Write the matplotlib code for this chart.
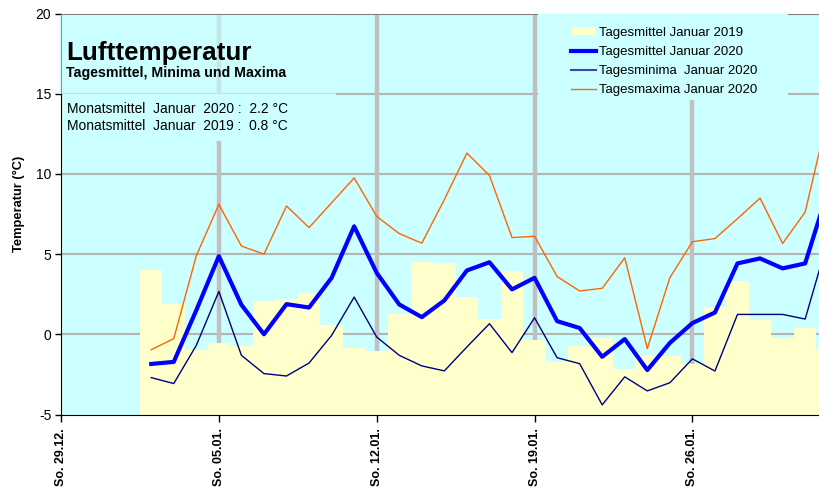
import matplotlib
matplotlib.use("Agg")
import matplotlib.pyplot as plt
from matplotlib.patches import Rectangle, Patch
from matplotlib.lines import Line2D

plt.rcParams['font.family'] = ['Liberation Sans', 'DejaVu Sans']
plt.rcParams['axes.unicode_minus'] = False

# ---- data (January, day 1..31) ----
days = list(range(1, 32))
mean_2019 = [4.0, 1.9, -1.0, -0.54, -0.73, 2.07, 2.17, 2.59, 0.6, -0.83, -1.06,
             1.28, 4.51, 4.47, 2.32, 0.97, 3.97, -0.34, -1.75, -0.71, -0.21,
             -2.16, -1.37, -1.37, -1.87, 1.7, 3.35, 0.87, -0.21, 0.39, -0.94]
mean_2020 = [-1.85, -1.72, 1.5, 4.87, 1.84, 0.0, 1.88, 1.67, 3.52, 6.73, 3.83,
             1.86, 1.07, 2.11, 3.98, 4.49, 2.8, 3.52, 0.82, 0.39, -1.4,
             -0.3, -2.23, -0.54, 0.7, 1.36, 4.42, 4.73, 4.11, 4.42, 8.9]
min_2020 = [-2.7, -3.07, -0.69, 2.67, -1.31, -2.45, -2.6, -1.79, -0.07, 2.32, -0.17,
            -1.31, -1.97, -2.28, -0.79, 0.66, -1.14, 1.03, -1.46, -1.83, -4.4,
            -2.65, -3.53, -3.02, -1.53, -2.29, 1.24, 1.24, 1.24, 0.95, 5.8]
max_2020 = [-0.96, -0.27, 4.9, 8.1, 5.5, 5.0, 8.0, 6.65, 8.2, 9.75, 7.35,
            6.28, 5.68, 8.4, 11.3, 9.9, 6.03, 6.11, 3.6, 2.7, 2.87,
            4.77, -0.89, 3.53, 5.77, 5.97, 7.21, 8.49, 5.66, 7.62, 13.6]
tick_days = [0, 7, 14, 21, 28]
tick_labels = ['So. 29.12.', 'So. 05.01.', 'So. 12.01.', 'So. 19.01.', 'So. 26.01.']
y_ticks = [-5, 0, 5, 10, 15, 20]
legend_labels = ['Tagesmittel Januar 2019', 'Tagesmittel Januar 2020',
                 'Tagesminima  Januar 2020', 'Tagesmaxima Januar 2020']
mean_text = ['Monatsmittel  Januar  2020 :  2.2 °C', 'Monatsmittel  Januar  2019 :  0.8 °C']

Y_FLOOR = -5  # value axis crosses at -5, bars grow from there

# x position: days since 29.12. (data plotted one day offset as in original)
xpos = [d + 3 for d in days]

W, H = 820, 496
fig = plt.figure(figsize=(W / 100, H / 100), dpi=100)
fig.patch.set_facecolor('white')

L, T, B = 61, 13.5, 414.5
ax = fig.add_axes([L / W, (H - B) / H, (W - L) / W, (B - T) / H])
ax.set_facecolor('#CCFFFF')
ax.set_xlim(0, (W - L) / 22.55)
ax.set_ylim(Y_FLOOR, 20)

# gridlines
for yv in y_ticks[1:-1]:
    ax.axhline(yv, color='#B4B4B4', lw=1.5, zorder=1)
for xv in tick_days[1:]:
    ax.axvline(xv, color='#C0C0C0', lw=3.2, zorder=1)

ax.bar(xpos, [v - Y_FLOOR for v in mean_2019], width=1.0, bottom=Y_FLOOR,
       color='#FFFFCC', edgecolor='none', zorder=2)
ax.plot(xpos, max_2020, color='#FF6600', lw=1.0, zorder=4)
ax.plot(xpos, min_2020, color='#000080', lw=1.0, zorder=4)
ax.plot(xpos, mean_2020, color='#0000FF', lw=3.0, zorder=5)

ax.set_yticks(y_ticks)
ax.set_yticklabels([str(v) for v in y_ticks], fontsize=10)
ax.set_xticks(tick_days)
ax.set_xticklabels(tick_labels, rotation=90, fontsize=9, fontweight='bold')
ax.tick_params(axis='y', length=4, width=1, pad=3, direction='out')
ax.tick_params(axis='x', length=5, width=1, pad=5, direction='out')

ax.spines['right'].set_visible(False)
ax.spines['top'].set_color('#808080')
ax.spines['left'].set_color('black')
ax.spines['bottom'].set_color('black')

def fx(px):
    return px / W

def fy(py):
    return 1 - py / H

# title box (semi-transparent), mean-value box and legend box
fig.patches.append(Rectangle((fx(59), fy(94)), fx(336) - fx(59), fy(14.5) - fy(94),
                             transform=fig.transFigure, facecolor='#CCFFFF', alpha=0.6,
                             edgecolor='none', zorder=3))
fig.patches.append(Rectangle((fx(63), fy(141)), fx(336) - fx(63), fy(94) - fy(141),
                             transform=fig.transFigure, facecolor='#CCFFFF',
                             edgecolor='none', zorder=3))
fig.patches.append(Rectangle((fx(538), fy(100)), fx(788) - fx(538), fy(14.5) - fy(100),
                             transform=fig.transFigure, facecolor='#CCFFFF',
                             edgecolor='none', zorder=3))

fig.text(fx(66), fy(60), 'Lufttemperatur', fontsize=18.7, fontweight='bold', va='baseline', zorder=6)
fig.text(fx(66), fy(77.5), 'Tagesmittel, Minima und Maxima', fontsize=10.2, fontweight='bold',
         va='baseline', zorder=6)
fig.text(fx(67), fy(113), mean_text[0], fontsize=9.9, va='baseline', zorder=6)
fig.text(fx(67), fy(129.5), mean_text[1], fontsize=9.9, va='baseline', zorder=6)

fig.text(fx(19), fy(204), 'Temperatur (°C)', fontsize=9.3, fontweight='bold', rotation=90,
         ha='center', va='center')

handles = [Patch(facecolor='#FFFFCC', edgecolor='none'),
           Line2D([], [], color='#0000FF', lw=3.0),
           Line2D([], [], color='#3848A8', lw=1.5),
           Line2D([], [], color='#FF6600', lw=1.0)]
leg = fig.legend(handles, legend_labels, loc='upper left',
                 bbox_to_anchor=(fx(571), fy(27)), frameon=False, fontsize=9.5,
                 handlelength=1.9, handleheight=0.55, handletextpad=0.25,
                 labelspacing=0.53, borderpad=0, borderaxespad=0)
leg.set_zorder(7)

fig.savefig('out.png', dpi=100)
